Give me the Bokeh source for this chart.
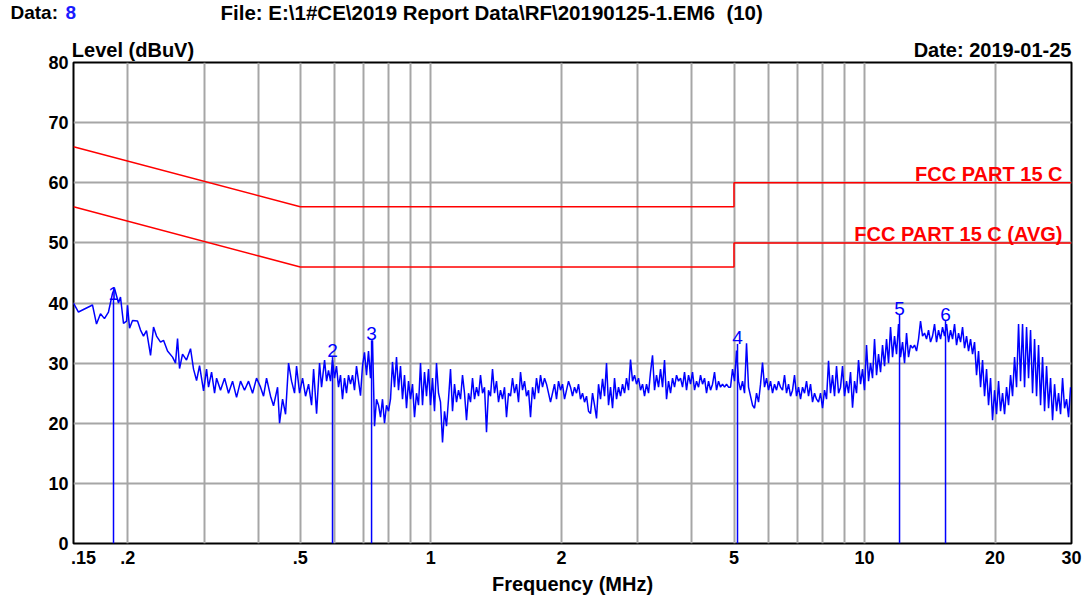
import numpy as np
from bokeh.plotting import figure
from bokeh.layouts import column
from bokeh.models import FixedTicker, Label, Range1d, LogAxis
from bokeh.core.properties import value
from bokeh.embed import file_html
from bokeh.resources import INLINE

FONT = "Liberation Sans"

# ---------------- data ----------------
# scan part 1 (0.15 - 0.58 MHz): explicit frequency / level pairs
seg1_freq = [0.1500, 0.1540, 0.1590, 0.1642, 0.1659, 0.1695, 0.1731, 0.1768, 0.1806, 0.1845,
             0.1865, 0.1905, 0.1925, 0.1956, 0.1988, 0.1998, 0.2020, 0.2052, 0.2107, 0.2141,
             0.2175, 0.2210, 0.2258, 0.2294, 0.2331, 0.2381, 0.2419, 0.2471, 0.2538, 0.2578,
             0.2606, 0.2634, 0.2676, 0.2733, 0.2792, 0.2837, 0.2883, 0.2929, 0.2992, 0.3040,
             0.3072, 0.3122, 0.3172, 0.3206, 0.3274, 0.3345, 0.3416, 0.3490, 0.3565, 0.3641,
             0.3719, 0.3799, 0.3881, 0.3964, 0.4049, 0.4114, 0.4180, 0.4270, 0.4338, 0.4432,
             0.4479, 0.4551, 0.4624, 0.4698, 0.4774, 0.4850, 0.4902, 0.4981, 0.5061, 0.5142,
             0.5225, 0.5309, 0.5366, 0.5452, 0.5539, 0.5598, 0.5688, 0.5749]
seg1_level = [40, 38.5, 39, 39.5, 39.7, 36.5, 38.2, 37.4, 38.5, 41.6,
              42.4, 40, 41, 36.6, 37, 39.6, 35.8, 37.1, 37, 35.5,
              34.5, 35.4, 31.3, 36, 34.5, 33.5, 33.8, 32, 31, 30,
              34.1, 29.1, 31.5, 30.5, 32.4, 29, 27.1, 29.6, 25.4, 29,
              26, 28.5, 25, 27.5, 25.5, 27.5, 25, 27, 24.3, 27,
              25.5, 27, 25, 27.5, 26, 24.5, 27.5, 24.5, 22.9, 26,
              20, 24, 21.5, 30, 27, 25, 29.5, 25, 27.5, 24.5,
              26.5, 23, 29, 21.6, 30, 26, 30.5, 27]

seg2_start, seg2_stop = 0.5808, 2.2136
seg2_level = [28.8, 27, 30.5, 27.5, 29.5, 26, 28, 24, 27.5, 25,
              28, 26.5, 28, 25.5, 29.5, 27, 24.6, 29.5, 31.8, 28,
              32, 27.5, 33.8, 19.5, 24, 23, 21, 24, 20, 23,
              22, 24, 30.2, 26, 31, 25.5, 29.5, 24, 28, 22.5,
              27, 24, 26.5, 21, 25, 23, 30, 23, 28.5, 24.5,
              29, 23, 27.5, 22, 30, 25, 23.5, 16.8, 22, 19.5,
              24, 29, 22, 26.5, 23.5, 25.5, 24, 28, 25, 20.5,
              25, 23.5, 27.5, 24, 26, 24.5, 28, 25, 26, 18.5,
              25.5, 24.5, 29, 25, 27, 23.5, 25.5, 24, 26, 21,
              25, 24.5, 27.5, 25, 26.5, 23.5, 28.5, 25.5, 27, 24.5,
              25.5, 21, 26, 24, 27.5, 25, 28, 26, 27.5, 26.5,
              25, 23.5, 25, 26.5, 24, 27, 25.5, 26.5, 24, 25.5,
              27, 26, 24.5, 26, 25, 26.5, 24]

seg3_start, seg3_stop = 2.2373, 8.709
seg3_level = [25, 23.5, 24.5, 22, 21.6, 25, 23, 20.8, 26.5, 24,
              27.4, 24.5, 30, 23, 26, 22.5, 27.5, 24, 26, 24.5,
              26.5, 25, 27.5, 25.5, 30.6, 27, 28, 26.5, 27.5, 25.5,
              26.5, 24.5, 26.5, 25, 28.5, 31.3, 25.5, 28, 26, 29,
              26, 30.5, 24, 27, 25, 27.5, 26, 28, 27, 27.5,
              26, 28.5, 25.5, 28, 26.5, 28.5, 25.5, 27, 26, 28,
              26.5, 27.5, 25, 27, 25.5, 26.5, 28.5, 25.5, 27, 26,
              26.5, 26, 26.5, 26, 26, 29, 27, 32.1, 27, 25.5,
              27, 25, 33.3, 26, 24.5, 23, 22.5, 25, 23.5, 26.5,
              30.1, 26, 27.5, 25.5, 27, 25, 26.5, 25.5, 27, 26,
              25.5, 28, 25, 26.5, 24.5, 25.5, 28, 24.5, 26, 24,
              26, 25, 27, 24.5, 26.5, 23.5, 25, 24, 23.5, 25,
              22.5, 25.5, 24, 30.4, 25, 28, 24.5, 29.5, 25]

seg4_start, seg4_stop = 8.802, 29.85
seg4_level = [26, 29.5, 24.5, 27, 25, 28.5, 22.6, 27, 25, 30.5,
              26.5, 29, 25.5, 33, 27, 30, 27.5, 34, 28, 31.5,
              28.5, 33, 29.5, 34, 30, 36, 31, 34.5, 31.5, 36.5,
              31, 33.5, 30, 35, 31, 33, 32.5, 33, 32, 34,
              37, 34.5, 35, 34, 35.5, 33.5, 34.5, 36.5, 33.5, 35.5,
              34, 36, 34.5, 36.5, 33.5, 35.5, 34, 36.5, 33, 35,
              33.5, 36, 32.5, 34.5, 32, 34, 31.5, 33.5, 28, 32,
              26, 30.5, 24.5, 29, 23, 27.5, 20.5, 25.5, 21.5, 27,
              22, 25, 21.5, 26, 23, 28, 24.5, 31, 26, 36.5,
              27, 36.5, 26, 36, 27.5, 35.5, 25, 34, 24.5, 33,
              23, 31, 22, 29.5, 22.5, 27.5, 20.5, 26.5, 22, 25,
              21.5, 27.5, 22.5, 24, 21, 26]

# markers
mk_freq = [0.1855, 0.5933, 0.730, 5.094, 12.04, 15.37]
mk_level = [40.5, 31.0, 33.8, 33.2, 38.0, 37.0]
mk_label = ["1", "2", "3", "4", "5", "6"]

# limit lines (FCC Part 15 C conducted)
qp_freq = [0.15, 0.5, 5, 5, 30]
qp_level = [66, 56, 56, 60, 60]
avg_freq = [0.15, 0.5, 5, 5, 30]
avg_level = [56, 46, 46, 50, 50]

# ticks
x_tick_vals = [0.15, 0.2, 0.5, 1, 2, 5, 10, 20, 30]
x_tick_text = ["\u00a0\u00a0\u00a0\u00a0.15", ".2", ".5", "1", "2", "5", "10", "20", "30"]
x_grid_vals = [0.2, 0.3, 0.4, 0.5, 0.6, 0.7, 0.8, 0.9, 1, 2, 3, 4, 5, 6, 7, 8, 9, 10, 20]
y_ticks = [0, 10, 20, 30, 40, 50, 60, 70, 80]

# captions shown just above the chart box (placed along the top edge)
top_caption_pos = [0.2057, 19.73]
top_caption_text = ["Level (dBuV)", "Date: 2019-01-25"]

# ---------------- build trace ----------------
freq = (list(seg1_freq)
        + list(np.geomspace(seg2_start, seg2_stop, len(seg2_level)))
        + list(np.geomspace(seg3_start, seg3_stop, len(seg3_level)))
        + list(np.geomspace(seg4_start, seg4_stop, len(seg4_level))))
level = list(seg1_level) + seg2_level + seg3_level + seg4_level

W = 1085
P_TOP = 34
HEAD_H = 62 - P_TOP
P_BOTTOM = 54

# ---------------- header strip (texts above the chart) ----------------
head = figure(width=W, height=HEAD_H, x_range=Range1d(0, W), y_range=Range1d(HEAD_H, 0),
              output_backend="svg", toolbar_location=None,
              x_axis_location=None, y_axis_location=None,
              min_border_left=0, min_border_right=0, min_border_top=0, min_border_bottom=0)
head.outline_line_color = None
head.xgrid.visible = False
head.ygrid.visible = False
head.background_fill_color = "white"
head.border_fill_color = "white"

def htext(x, y, txt, size="19px", align="left", color="black"):
    head.text(x=[x], y=[y], text=[txt], text_align=align, text_baseline="middle",
              text_font=value(FONT), text_font_size=size, text_font_style="bold",
              text_color=color)

htext(10, 12, "Data:")
htext(65, 12, "8", color="#1a1aff")
htext(220, 12, "File: E:\\1#CE\\2019 Report Data\\RF\\20190125-1.EM6\u00a0 (10)", size="20.5px")

# ---------------- chart ----------------
p = figure(width=W, height=P_TOP + 481 + P_BOTTOM, x_axis_type="log",
           x_range=Range1d(0.15, 30), y_range=Range1d(0, 80),
           output_backend="svg", toolbar_location=None,
           min_border_left=73, min_border_right=14, min_border_top=P_TOP,
           min_border_bottom=P_BOTTOM)
p.background_fill_color = "white"
p.border_fill_color = "white"
p.outline_line_color = "black"
p.outline_line_width = 2

for fig in (head, p):
    if "frame_align" in fig.properties():
        fig.frame_align = False

grid_color = "#a6a6a6"
p.xgrid.ticker = FixedTicker(ticks=x_grid_vals)
p.xgrid.grid_line_color = grid_color
p.xgrid.grid_line_width = 2
p.ygrid.ticker = FixedTicker(ticks=y_ticks)
p.ygrid.grid_line_color = grid_color
p.ygrid.grid_line_width = 2

xa = p.xaxis[0]
xa.ticker = FixedTicker(ticks=x_tick_vals)
xa.major_label_overrides = {v: s for v, s in zip(x_tick_vals, x_tick_text)}
ya = p.yaxis[0]
ya.ticker = FixedTicker(ticks=y_ticks)

top_ax = LogAxis(ticker=FixedTicker(ticks=top_caption_pos),
                 major_label_overrides={v: s for v, s in zip(top_caption_pos, top_caption_text)})
p.add_layout(top_ax, "above")

for ax in (xa, ya, top_ax):
    ax.axis_line_color = None
    ax.major_tick_line_color = None
    ax.minor_tick_line_color = None
    ax.major_tick_out = 0
    ax.major_tick_in = 0
    ax.minor_tick_out = 0
    ax.minor_tick_in = 0
    ax.major_label_text_font = FONT
    ax.major_label_text_font_size = "18px"
    ax.major_label_text_font_style = "bold"
    ax.major_label_text_color = "black"
top_ax.major_label_text_font_size = "20px"
top_ax.major_label_standoff = 2
xa.major_label_standoff = 4
ya.major_label_standoff = 5
xa.axis_label = "Frequency (MHz)"
xa.axis_label_text_font = FONT
xa.axis_label_text_font_size = "20px"
xa.axis_label_text_font_style = "bold"
xa.axis_label_text_color = "black"
xa.axis_label_standoff = 2

# limit lines
p.line(qp_freq, qp_level, line_color="#ff0000", line_width=1.5)
p.line(avg_freq, avg_level, line_color="#ff0000", line_width=1.5)

# trace
p.line(freq, level, line_color="#0000ff", line_width=1.5)

# markers
p.segment(x0=mk_freq, y0=[0] * len(mk_freq), x1=mk_freq, y1=mk_level,
          line_color="#0000ff", line_width=1.5)
p.text(x=mk_freq, y=mk_level, text=mk_label, text_align="center", text_baseline="bottom",
       text_font=value(FONT), text_font_size="19px", text_color="#0000ff")

def lab(x, y, text):
    p.add_layout(Label(x=x, y=y, text=text, text_align="right", text_baseline="alphabetic",
                       text_color="#ff0000", text_font=FONT, text_font_size="20px",
                       text_font_style="bold"))

lab(28.6, 61.5, "FCC PART 15 C")
lab(28.6, 51.5, "FCC PART 15 C (AVG)")

layout = column(head, p, spacing=0)
open("out.html", "w").write(file_html(layout, INLINE))
